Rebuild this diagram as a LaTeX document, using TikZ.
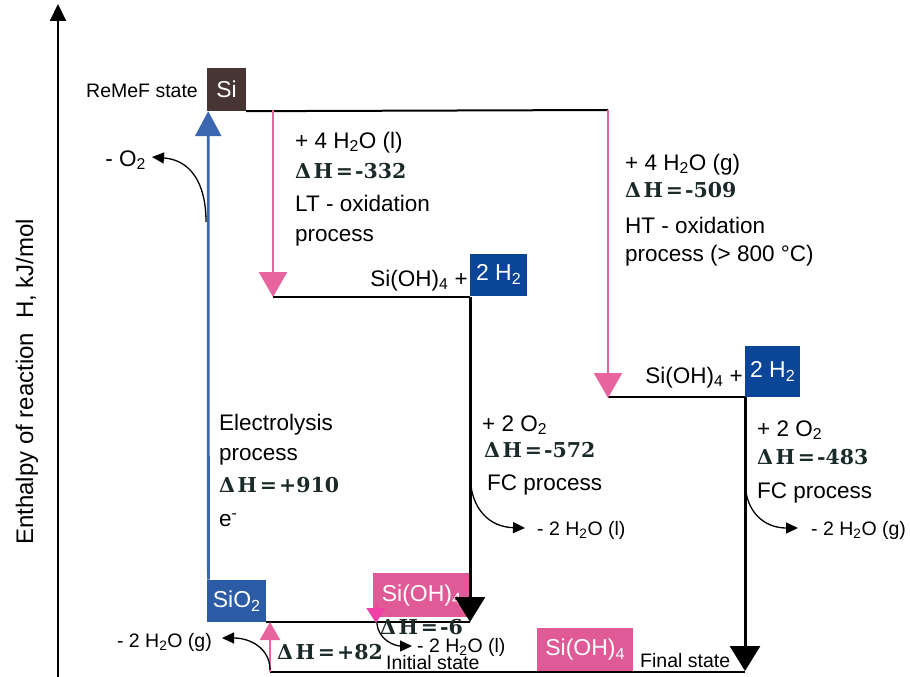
\documentclass[tikz,border=0pt]{standalone}
\usepackage{fontspec}
\setmainfont{Liberation Sans}
\newfontfamily\dhf{DejaVu Serif}
\usetikzlibrary{arrows.meta}
\definecolor{pinkl}{HTML}{E8649E}
\definecolor{pinkbox}{HTML}{E05A97}
\definecolor{pinktip}{HTML}{F040A8}
\definecolor{bluel}{HTML}{3B67B0}
\definecolor{bluebox}{HTML}{0B4597}
\definecolor{sioxbox}{HTML}{2D5CA6}
\definecolor{sibox}{HTML}{463532}
\definecolor{dhcol}{HTML}{1A2A28}
\newcommand{\dhtxt}[1]{Δ\kern2.5pt\relax H\kern3pt\relax=\kern2pt\relax#1}
\begin{document}
\begin{tikzpicture}[x=1pt,y=-1pt,
  big/.style={font=\fontsize{22.5}{27}\selectfont, inner sep=0pt, anchor=base west},
  small/.style={font=\fontsize{19.5}{23}\selectfont, inner sep=0pt, anchor=base west},
  dh/.style={font=\fontsize{20.5}{24}\selectfont\dhf\bfseries, inner sep=0pt, anchor=base west, text=dhcol},
  box/.style={inner sep=0pt, text=white, font=\fontsize{23}{27}\selectfont},
  pinkarrow/.style={pinkl, line width=2.5pt, -{Triangle[width=28pt,length=25pt]}},
  blackarrow/.style={black, line width=3pt, -{Triangle[width=30pt,length=25pt]}},
  level/.style={black, line width=2.5pt},
  curvearrow/.style={black, line width=1.3pt, -{Triangle[width=11pt,length=12pt]}}
]
\useasboundingbox (0,0) rectangle (910,677);

% axis
\coordinate (ax0) at (58,677);
\coordinate (ax1) at (58,4);
\draw[line width=2pt,-{Triangle[width=16pt,length=17pt]}] (ax0) -- (ax1);
\node[rotate=90, anchor=base west, font=\fontsize{24}{28}\selectfont, inner sep=0pt] (ylab) at (33,545) {Enthalpy of reaction\hspace{14pt}H, kJ/mol};

% boxes
\node[box, fill=sibox, minimum width=39pt, minimum height=43pt] (si) at (226.5,89.5) {Si};
\node[small, anchor=base east] (remef) at (198,97) {ReMeF state};
\node[box, fill=bluebox, minimum width=57pt, minimum height=42pt, anchor=south west] (h2a) at (470,296) {2 H\textsubscript{2}};
\node[box, fill=bluebox, minimum width=55pt, minimum height=51pt, anchor=south west] (h2b) at (745,397) {2 H\textsubscript{2}};
\node[box, fill=sioxbox, minimum width=59pt, minimum height=42pt, anchor=south west] (siox) at (207,622) {SiO\textsubscript{2}};
\node[box, fill=pinkbox, minimum width=97pt, minimum height=44pt, anchor=north west] (soha) at (373,573) {Si(OH)\textsubscript{4}};
\node[box, fill=pinkbox, minimum width=96pt, minimum height=44pt, anchor=south west] (sohb) at (537,672) {Si(OH)\textsubscript{4}};

% coordinates
\coordinate (t1) at (608,110);
\coordinate (lt0) at (273,110);
\coordinate (lt1) at (273,297);
\coordinate (l2e) at (470,297);
\coordinate (l1e) at (470,622);
\coordinate (ht1) at (608,398);
\coordinate (l3s) at (608,397);
\coordinate (l3e) at (745,397);
\coordinate (fe) at (745,671);
\coordinate (b0) at (270,672);
\coordinate (b1) at (745,672);
\coordinate (b2) at (270,622);

% levels
\draw[black, line width=2pt] (si.south east) -- (t1);
\draw[level] (lt1) -- (l2e);
\draw[level] (l3s) -- (l3e);
\draw[black, line width=2pt] (siox.south east) -- (l1e);
\draw[level] (b0) -- (b1);

% main arrows
\draw[bluel, line width=2.8pt, -{Triangle[width=26pt,length=25pt]}] ([xshift=1.4pt]siox.north west) -- ([xshift=1.4pt]si.south west);
\draw[pinkarrow] (lt0) -- (lt1);
\draw[pinkarrow] (t1) -- (ht1);
\draw[blackarrow] (l2e) -- (l1e);
\draw[blackarrow] (l3e) -- (fe);
\draw[pinkl, line width=2pt, -{Triangle[width=20pt,length=18pt]}] (b0) -- (b2);
\coordinate (m0) at (376,605);
\coordinate (m1) at (376,623);
\draw[pinktip, line width=1.5pt, -{Triangle[width=19pt,length=15pt]}] (m0) -- (m1);

% O2 release
\node[big, anchor=base east] (otwo) at (146,166) {- O\textsubscript{2}};
\coordinate (o2s) at (206,222);
\coordinate (o2t) at (152,157);
\draw[curvearrow] (o2s) .. controls (206,182) and (190,160) .. (o2t);

% LT texts
\node[big] (lta) at (295,148) {+ 4 H\textsubscript{2}O (l)};
\node[dh] (ltb) at (295,178) {\dhtxt{-332}};
\node[big] (ltc) at (295,211) {LT - oxidation};
\node[big] (ltd) at (295,241) {process};
\node[big, anchor=base east] (sohl) at (468,286) {Si(OH)\textsubscript{4} +};

% HT texts
\node[big] (hta) at (625,170) {+ 4 H\textsubscript{2}O (g)};
\node[dh] (htb) at (625,197) {\dhtxt{-509}};
\node[big] (htc) at (625,233) {HT - oxidation};
\node[big] (htd) at (625,261) {process (> 800 °C)};
\node[big, anchor=base east] (sohr) at (743,383) {Si(OH)\textsubscript{4} +};

% FC left
\node[big] (fla) at (482,431) {+ 2 O\textsubscript{2}};
\node[dh] (flb) at (484,457) {\dhtxt{-572}};
\node[big] (flc) at (487,490) {FC process};
\coordinate (fls) at (470,476);
\coordinate (flt) at (525,528);
\draw[curvearrow] (fls) .. controls (471,510) and (490,527) .. (flt);
\node[small] (fld) at (537,535) {- 2 H\textsubscript{2}O (l)};

% FC right
\node[big] (fra) at (757,436) {+ 2 O\textsubscript{2}};
\node[dh] (frb) at (757,464) {\dhtxt{-483}};
\node[big] (frc) at (757,498) {FC process};
\coordinate (frs) at (745,483);
\coordinate (frt) at (798,528);
\draw[curvearrow] (frs) .. controls (746,513) and (765,528) .. (frt);
\node[small] (frd) at (811,535) {- 2 H\textsubscript{2}O (g)};

% Electrolysis
\node[big] (ela) at (219,430) {Electrolysis};
\node[big] (elb) at (219,460) {process};
\node[dh] (elc) at (219,492) {\dhtxt{+910}};
\node[big] (eld) at (219,526) {e\textsuperscript{-}};

% bottom
\node[dh] (dsix) at (380,634) {\dhtxt{-6}};
\coordinate (c6s) at (377,623);
\coordinate (c6t) at (412,646);
\draw[curvearrow] (c6s) .. controls (378,640) and (395,646) .. (c6t);
\node[small] (wl) at (417,652) {- 2 H\textsubscript{2}O (l)};
\node[small] (init) at (386,669) {Initial state};
\node[dh] (d82) at (277,659) {\dhtxt{+82}};
\node[small, anchor=base east] (wg) at (212,647) {- 2 H\textsubscript{2}O (g)};
\coordinate (c8s) at (270,670);
\coordinate (c8t) at (222,638);
\draw[curvearrow] (c8s) .. controls (270,648) and (250,638) .. (c8t);
\node[small] (fin) at (640,667) {Final state};
\end{tikzpicture}
\end{document}
